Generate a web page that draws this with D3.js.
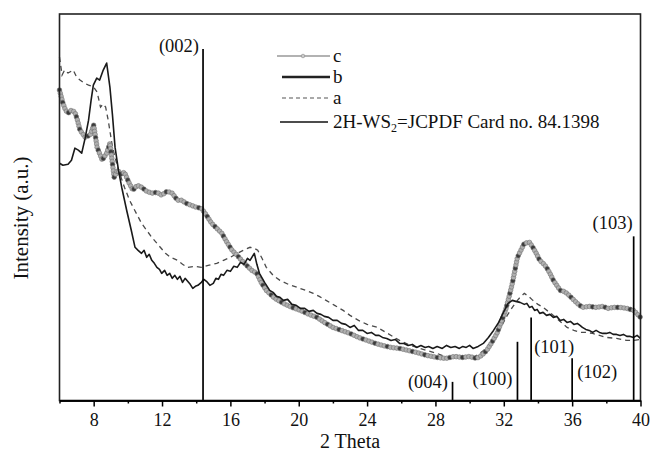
<!DOCTYPE html>
<html>
<head>
<meta charset="utf-8">
<script src="https://cdn.jsdelivr.net/npm/d3@7"></script>
<style>
  body { margin: 0; background: #fff; }
  svg { display: block; font-family: "Liberation Serif", "Times New Roman", serif; }
</style>
</head>
<body>
<svg id="chart" width="653" height="453"></svg>
<script>
/*************************Data********************* */
// sample b (solid) : [2 theta, intensity a.u.]
const seriesB = [
  [6.0, 237], [6.2, 235], [6.5, 236], [6.7, 240], [6.9, 252], [7.1, 250], [7.3, 247], [7.5, 262],
  [7.7, 280], [7.85, 300], [7.98, 315], [8.18, 322], [8.35, 320], [8.56, 330], [8.76, 337], [8.95, 313],
  [9.1, 285], [9.25, 253], [9.45, 230], [9.64, 213], [9.93, 190], [10.2, 170], [10.42, 153], [10.6, 150],
  [10.8, 147], [10.95, 150], [11.1, 143], [11.25, 146], [11.4, 140], [11.55, 137], [11.7, 133], [11.85, 131],
  [11.98, 127], [12.15, 130], [12.3, 125], [12.45, 127], [12.6, 122], [12.75, 125], [12.9, 121], [13.05, 124],
  [13.2, 118], [13.35, 122], [13.5, 119], [13.65, 116], [13.8, 112], [13.95, 114], [14.1, 115], [14.3, 118],
  [14.45, 121], [14.6, 119], [14.8, 115], [15.0, 117], [15.15, 122], [15.3, 121], [15.45, 126], [15.6, 125],
  [15.8, 130], [16.0, 129], [16.2, 134], [16.4, 133], [16.6, 138], [16.8, 136], [17.0, 142], [17.15, 140],
  [17.4, 147], [17.55, 136], [17.7, 127], [18.0, 118], [18.3, 110], [18.5, 108], [18.7, 104], [18.9, 103],
  [19.1, 100], [19.35, 101], [19.6, 96], [19.85, 95], [20.1, 92], [20.35, 92], [20.6, 89], [20.85, 90],
  [21.07, 87], [21.3, 86], [21.5, 84], [21.75, 83], [22.0, 80], [22.25, 80], [22.5, 77], [22.75, 76],
  [23.0, 73], [23.25, 75], [23.5, 70], [23.75, 70], [24.0, 67], [24.25, 68], [24.5, 65], [24.7, 65],
  [24.9, 63], [25.15, 62], [25.4, 60], [25.65, 61], [25.9, 57], [26.15, 57], [26.4, 55], [26.65, 56],
  [26.9, 53], [27.15, 55], [27.4, 53], [27.6, 54], [27.85, 52], [28.1, 54], [28.4, 52], [28.65, 55],
  [28.9, 53], [29.15, 54], [29.4, 52], [29.6, 54], [29.8, 53], [30.0, 55], [30.2, 52], [30.5, 54],
  [30.8, 57], [31.1, 63], [31.4, 70], [31.7, 78], [31.95, 87], [32.25, 97], [32.5, 100], [32.7, 99],
  [32.95, 98], [33.2, 96], [33.35, 97], [33.5, 93], [33.65, 94], [33.8, 90], [33.95, 91], [34.1, 87],
  [34.3, 88], [34.5, 85], [34.7, 86], [34.9, 83], [35.1, 84], [35.3, 80], [35.5, 81], [35.7, 78],
  [35.9, 79], [36.1, 76], [36.3, 77], [36.46, 75], [36.6, 73], [36.8, 71], [37.0, 70], [37.2, 68],
  [37.4, 70], [37.6, 68], [37.8, 67], [38.0, 67], [38.2, 68], [38.4, 66], [38.6, 66], [38.8, 65],
  [39.0, 66], [39.2, 64], [39.4, 64], [39.6, 63], [39.8, 65], [40.0, 62]
];

// sample a (dashed)
const seriesA = [
  [6.0, 343], [6.15, 325], [6.3, 330], [6.5, 327], [6.8, 330], [7.0, 323], [7.2, 320], [7.45, 317],
  [7.7, 315], [8.0, 313], [8.2, 308], [8.4, 293], [8.55, 296], [8.7, 293], [8.85, 280], [9.1, 253],
  [9.4, 233], [9.8, 213], [10.1, 200], [10.4, 190], [10.8, 177], [11.1, 170], [11.4, 163], [11.8, 155],
  [12.2, 147], [12.5, 143], [12.9, 140], [13.2, 136], [13.5, 133], [13.9, 134], [14.3, 133], [14.7, 135],
  [15.2, 137], [15.6, 140], [16.0, 143], [16.4, 147], [16.75, 150], [17.15, 153], [17.4, 152], [17.6, 150],
  [17.85, 142], [18.1, 133], [18.5, 125], [18.9, 120], [19.4, 116], [19.9, 113], [20.4, 110], [20.85, 107],
  [21.2, 104], [21.6, 100], [22.1, 95], [22.6, 90], [23.0, 85], [23.5, 80], [24.0, 76], [24.6, 73],
  [25.2, 67], [25.9, 60], [26.4, 56], [26.9, 53], [27.5, 50], [28.1, 47], [28.7, 43], [29.2, 45],
  [29.7, 44], [30.2, 43], [30.6, 47], [30.9, 51], [31.2, 57], [31.6, 67], [31.95, 77], [32.2, 85],
  [32.5, 93], [32.75, 99], [32.95, 103], [33.2, 107], [33.45, 104], [33.7, 100], [34.0, 96], [34.3, 93],
  [34.6, 89], [34.9, 85], [35.3, 79], [35.7, 73], [36.1, 70], [36.46, 68], [36.8, 68], [37.2, 67],
  [37.6, 65], [38.0, 63], [38.6, 62], [39.2, 60], [39.6, 60], [40.0, 61]
];

// sample c (gray with beads)
const seriesC = [
  [6.0, 310], [6.2, 297], [6.35, 290], [6.5, 287], [6.7, 290], [6.9, 288], [7.05, 280], [7.2, 270],
  [7.5, 263], [7.8, 265], [8.0, 275], [8.2, 253], [8.5, 240], [8.76, 247], [8.95, 257], [9.2, 223],
  [9.4, 230], [9.6, 226], [9.8, 228], [10.05, 218], [10.3, 210], [10.55, 215], [10.8, 213], [11.1, 209],
  [11.4, 207], [11.7, 208], [11.98, 205], [12.3, 209], [12.6, 207], [12.9, 200], [13.15, 200], [13.4, 197],
  [13.7, 195], [14.0, 193], [14.3, 192], [14.6, 185], [14.9, 177], [15.2, 172], [15.5, 167], [15.8, 158],
  [16.1, 150], [16.4, 145], [16.65, 140], [16.95, 135], [17.25, 130], [17.55, 127], [17.8, 118], [18.1, 110],
  [18.6, 102], [19.1, 97], [19.6, 93], [20.1, 90], [20.6, 86], [21.07, 83], [21.5, 78], [22.0, 73],
  [22.5, 70], [23.0, 67], [23.5, 63], [24.0, 60], [24.5, 57], [24.9, 55], [25.4, 53], [25.9, 52],
  [26.4, 50], [26.9, 48], [27.5, 45], [28.1, 43], [28.6, 42], [29.1, 44], [29.6, 43], [30.0, 44],
  [30.4, 42], [30.7, 45], [31.0, 50], [31.3, 58], [31.6, 67], [31.85, 78], [32.1, 90], [32.3, 103],
  [32.5, 117], [32.65, 130], [32.8, 143], [33.0, 150], [33.2, 157], [33.5, 158], [33.7, 153], [33.9, 147],
  [34.1, 140], [34.3, 137], [34.5, 133], [34.7, 127], [34.9, 120], [35.1, 115], [35.3, 110], [35.5, 109],
  [35.7, 107], [36.0, 102], [36.3, 97], [36.6, 93], [37.0, 94], [37.4, 93], [37.8, 94], [38.1, 92],
  [38.4, 93], [38.8, 93], [39.2, 92], [39.6, 90], [40.0, 83]
];

// 2H-WS2 JCPDF card 84.1398: position, relative intensity (%)
const refHkl = ["(002)", "(004)", "(100)", "(101)", "(102)", "(103)"];
const refPos = [14.4, 29.0, 32.8, 33.6, 36.0, 39.6];
const refInt = [100, 5.3, 16.7, 23.6, 12.0, 46.7];

const majorTicks = [8, 12, 16, 20, 24, 28, 32, 36, 40];
const minorTicks = [6, 10, 14, 18, 22, 26, 30, 34, 38];

/*************************Scales********************* */
const plotLeft = 59.5, plotRight = 640.5, plotTop = 14, plotBottom = 400.5;
const svg = d3.select("#chart");

const x = d3.scaleLinear().domain([6, 40]).range([plotLeft, plotRight]);
const y = d3.scaleLinear().domain([0, 386]).range([plotBottom, plotTop]);
const yRef = d3.scaleLinear().domain([0, 100]).range([plotBottom, 49]);

const line = d3.line().x((d) => x(d[0])).y((d) => y(d[1]));

/*************************Curves********************* */
svg.append("path").datum(seriesA)
  .attr("d", line).attr("fill", "none")
  .attr("stroke", "#4a4a4a").attr("stroke-width", 1.3)
  .attr("stroke-dasharray", "5,4");

const cPath = svg.append("path").datum(seriesC)
  .attr("d", line).attr("fill", "none")
  .attr("stroke", "#9a9a9a").attr("stroke-width", 1.5);

// beads along curve c
const node = cPath.node();
const total = node.getTotalLength();
const beads = d3.range(0, total, 3.2).map((l) => node.getPointAtLength(l));
svg.append("g").selectAll("circle").data(beads).join("circle")
  .attr("cx", (p) => p.x).attr("cy", (p) => p.y).attr("r", 2.3)
  .attr("fill", (_, i) => (i % 4 === 0 ? "#3a3a3a" : "#b0b0b0"))
  .attr("stroke", "#707070").attr("stroke-width", 0.6);

svg.append("path").datum(seriesB)
  .attr("d", line).attr("fill", "none")
  .attr("stroke", "#1a1a1a").attr("stroke-width", 1.6)
  .attr("stroke-linejoin", "round");

/*************************Reference lines********************* */
const refData = refHkl.map((h, i) => ({ hkl: h, pos: refPos[i], inten: refInt[i] }));
// label placement: anchor, dx from line, dy from line top
const refLabelLayout = {
  "(002)": ["end", -4, 3],
  "(004)": ["end", -4.5, 6],
  "(100)": ["end", -5, 43],
  "(101)": ["start", 3, 35],
  "(102)": ["start", 5, 20],
  "(103)": ["end", -1, -7],
};
const refG = svg.append("g");
refG.selectAll("line").data(refData).join("line")
  .attr("x1", (d) => x(d.pos)).attr("x2", (d) => x(d.pos))
  .attr("y1", (d) => yRef(d.inten)).attr("y2", plotBottom)
  .attr("stroke", "#000").attr("stroke-width", 1.7);
refG.selectAll("text").data(refData).join("text")
  .attr("x", (d) => x(d.pos) + refLabelLayout[d.hkl][1])
  .attr("y", (d) => yRef(d.inten) + refLabelLayout[d.hkl][2])
  .attr("text-anchor", (d) => refLabelLayout[d.hkl][0])
  .attr("font-size", 18.5).attr("fill", "#111")
  .text((d) => d.hkl);

/*************************Axes & frame********************* */
svg.append("rect").attr("x", plotLeft).attr("y", plotTop)
  .attr("width", plotRight - plotLeft).attr("height", plotBottom - plotTop)
  .attr("fill", "none").attr("stroke", "#222").attr("stroke-width", 1.6);

const xAxis = svg.append("g").attr("transform", `translate(0,${plotBottom})`)
  .call(d3.axisBottom(x).tickValues(majorTicks).tickSize(6).tickSizeOuter(0).tickPadding(7).tickFormat(d3.format("d")));
svg.append("g").attr("transform", `translate(0,${plotBottom})`)
  .call(d3.axisBottom(x).tickValues(minorTicks).tickSize(3).tickSizeOuter(0).tickFormat(""));
svg.selectAll(".domain").attr("stroke", "#000").attr("stroke-width", 1.6);
svg.selectAll(".tick line").attr("stroke", "#000").attr("stroke-width", 1.5);
xAxis.selectAll("text").attr("font-size", 18).attr("font-family", "Liberation Serif").attr("fill", "#111");

svg.append("text").attr("x", (plotLeft + plotRight) / 2).attr("y", 448)
  .attr("text-anchor", "middle").attr("font-size", 20).attr("fill", "#111")
  .text("2 Theta");
svg.append("text").attr("transform", "translate(28,218) rotate(-90)")
  .attr("text-anchor", "middle").attr("font-size", 21).attr("fill", "#111")
  .text("Intensity (a.u.)");

/*************************Legend********************* */
const legendItems = [
  { label: "c", y: 56, x1: 277 },
  { label: "b", y: 77, x1: 282 },
  { label: "a", y: 98, x1: 282 },
  { label: "2H-WS", sub: "2", rest: "=JCPDF Card no. 84.1398", y: 122, x1: 280 },
];
const lg = svg.append("g");
legendItems.forEach((it, i) => {
  const l = lg.append("line").attr("x1", it.x1).attr("x2", 330).attr("y1", it.y).attr("y2", it.y);
  if (i === 0) {
    l.attr("stroke", "#999").attr("stroke-width", 1.5);
    lg.append("circle").attr("cx", 303).attr("cy", it.y).attr("r", 1.8)
      .attr("fill", "#ccc").attr("stroke", "#888").attr("stroke-width", 0.6);
  } else if (i === 1) {
    l.attr("stroke", "#222").attr("stroke-width", 2.4);
  } else if (i === 2) {
    l.attr("stroke", "#555").attr("stroke-width", 1.2).attr("stroke-dasharray", "4,3");
  } else {
    l.attr("stroke", "#111").attr("stroke-width", 1.6).attr("x2", 328);
  }
  const t = lg.append("text").attr("x", 333).attr("y", it.y + 5.5)
    .attr("font-size", 19).attr("fill", "#111").text(it.label);
  if (it.sub) {
    t.append("tspan").attr("font-size", 12).attr("dy", 4).text(it.sub);
    t.append("tspan").attr("dy", -4).text(it.rest);
  }
});
</script>
</body>
</html>
